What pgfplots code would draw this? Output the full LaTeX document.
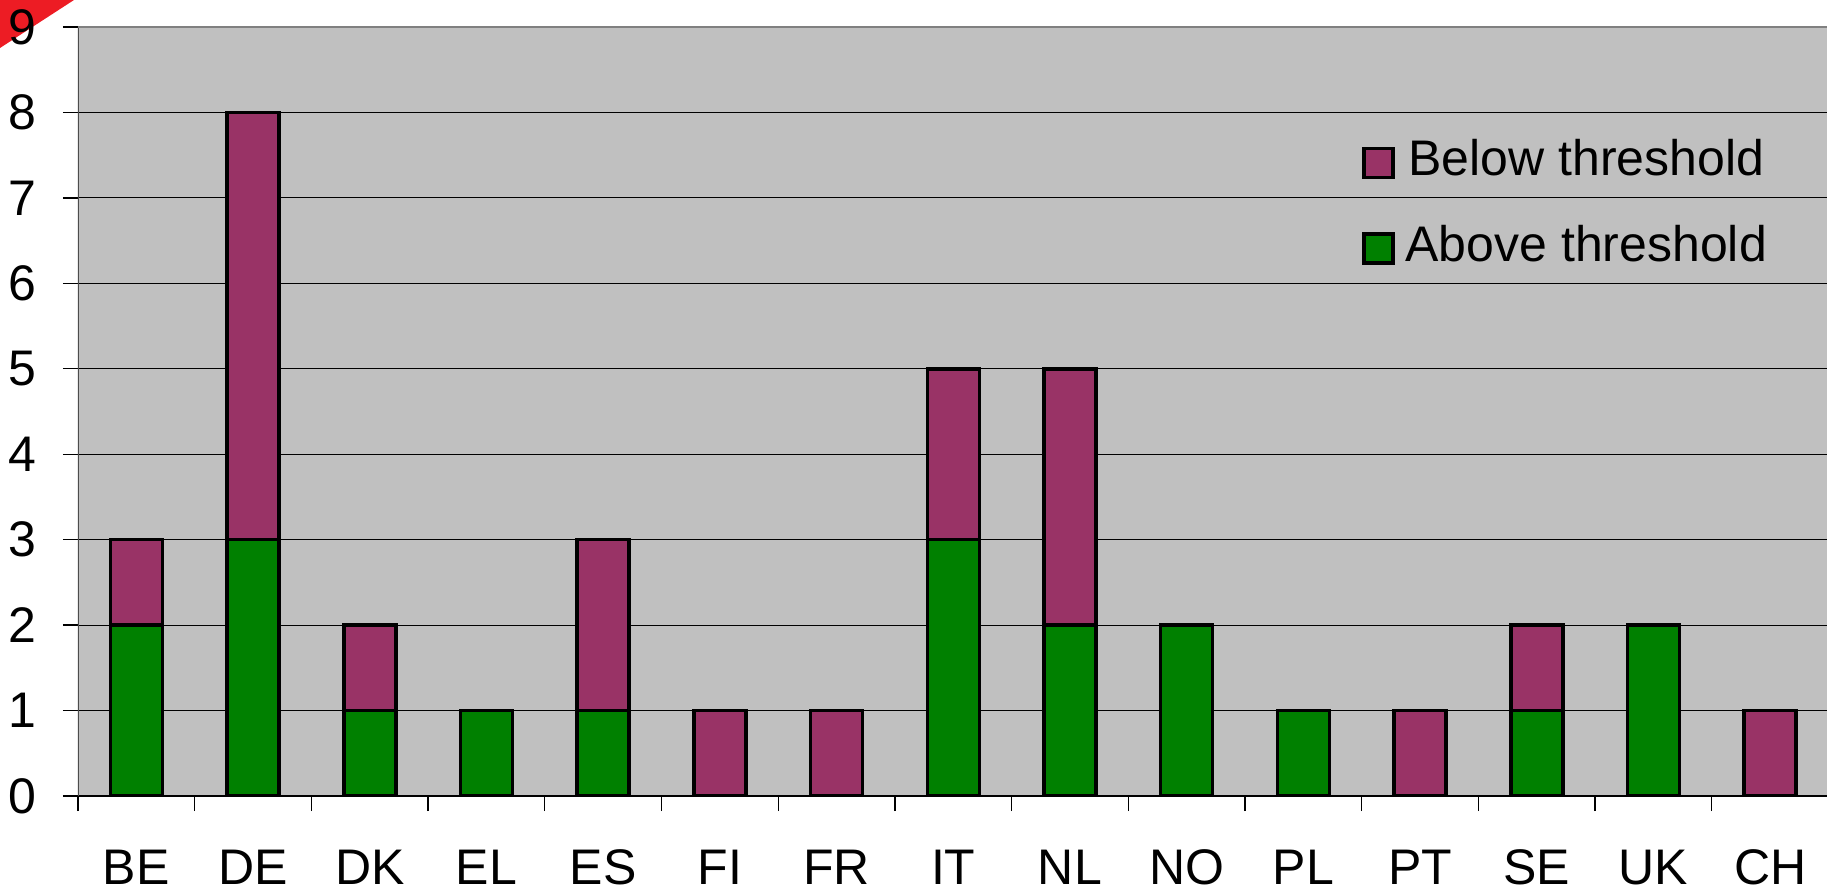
\documentclass[border=0pt]{standalone}
\usepackage{fontspec}
\setmainfont{Liberation Sans}
\usepackage{pgfplots}
\pgfplotsset{compat=1.18}
\definecolor{belowc}{HTML}{993366}
\definecolor{abovec}{HTML}{008000}
\definecolor{plotbg}{HTML}{C0C0C0}
\definecolor{cornerred}{HTML}{ED1C24}
\begin{document}
\begin{tikzpicture}[x=1bp,y=1bp]
\fill[cornerred] (-78,796) -- (-4,796) -- (-78,748) -- cycle;
\begin{axis}[
  at={(0,0)}, anchor=south west,
  scale only axis, width=1752bp, height=769bp,
  xmin=-0.5, xmax=14.513, ymin=0, ymax=9,
  ybar stacked, bar width=52bp,
  axis background/.style={fill=plotbg},
  axis line style={draw=none},
  xtick={0,...,14},
  xticklabels={BE,DE,DK,EL,ES,FI,FR,IT,NL,NO,PL,PT,SE,UK,CH},
  minor xtick={-0.5,0.5,...,13.5},
  ytick={0,...,9},
  tick pos=left,
  tick align=outside,
  major tick length=15bp, minor tick length=15bp,
  major x tick style={draw=none},
  tick style={black, line width=1.3bp},
  ymajorgrids=true,
  major grid style={black, line width=1.2bp},
  /pgf/number format/assume math mode=true,
  ticklabel style={font=\fontsize{50bp}{60bp}\selectfont},
  yticklabel style={anchor=east, inner sep=0pt, xshift=-26bp},
  xticklabel style={anchor=base, inner sep=0pt, text depth=0pt, yshift=-73bp},
  legend style={draw=none, fill=none, inner sep=0pt, outer sep=0pt,
    at={(0.7329,0.854)}, anchor=north west,
    font=\fontsize{50bp}{60bp}\selectfont, row sep=46bp,
    nodes={inner sep=0pt, anchor=base, text height=36bp, text depth=0pt},
    /tikz/every odd column/.append style={column sep=11bp}},
  legend cell align=left,
  reverse legend,
  legend image code/.code={\draw[#1, draw=black, line width=3.5bp] (0bp,-2bp) rectangle (29bp,27bp);},
  every axis plot/.append style={draw=black, line width=3.5bp},
]
\addplot[fill=abovec] coordinates {(0,2) (1,3) (2,1) (3,1) (4,1) (5,0) (6,0) (7,3) (8,2) (9,2) (10,1) (11,0) (12,1) (13,2) (14,0)};
\addlegendentry{Above threshold}
\addplot[fill=belowc] coordinates {(0,1) (1,5) (2,1) (3,0) (4,2) (5,1) (6,1) (7,2) (8,3) (9,0) (10,0) (11,1) (12,1) (13,0) (14,1)};
\addlegendentry{Below threshold}
\draw[line width=3bp, color=gray] (rel axis cs:0,1) -- (rel axis cs:1,1);
\draw[line width=3bp, color=black!70] (rel axis cs:0,0) -- (rel axis cs:0,1);
\draw[line width=2bp, color=black] (rel axis cs:0,0) -- (rel axis cs:1,0);
\end{axis}
\pgfresetboundingbox
\useasboundingbox (-78,-94) rectangle (1749,796);
\end{tikzpicture}
\end{document}
